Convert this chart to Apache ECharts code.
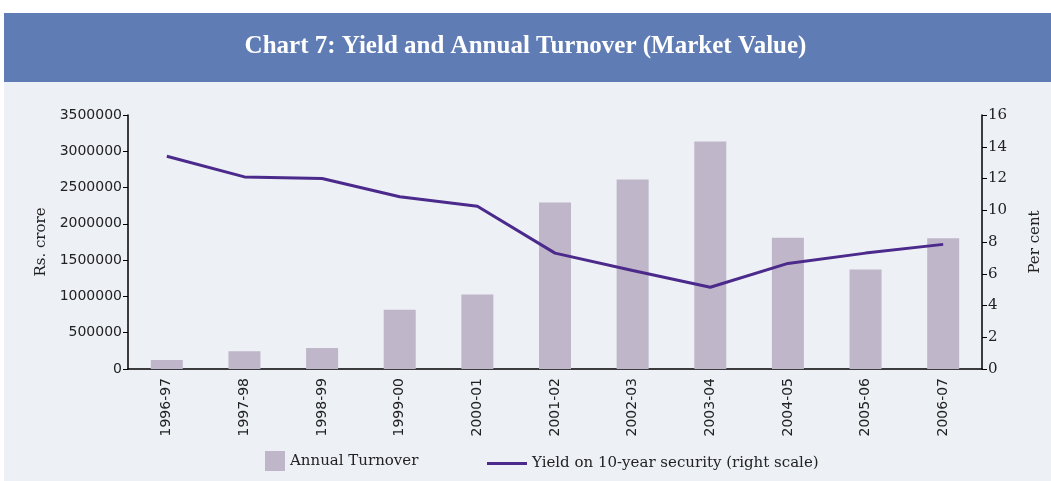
<!DOCTYPE html>
<html>
<head>
<meta charset="utf-8">
<script src="https://cdn.jsdelivr.net/npm/echarts@6/dist/echarts.min.js"></script>
<style>
  html, body { margin: 0; padding: 0; background: #fff; }
  #chart { width: 1051px; height: 481px; }
</style>
</head>
<body>
<div id="chart"></div>
<script>
var years = ['1996-97', '1997-98', '1998-99', '1999-00', '2000-01', '2001-02',
  '2002-03', '2003-04', '2004-05', '2005-06', '2006-07']
var turnover = [125000, 245000, 290000, 815000, 1025000, 2295000, 2610000, 3135000, 1810000, 1370000, 1800000]
var yieldPct = [13.4, 12.1, 12.0, 10.85, 10.25, 7.3, 6.2, 5.15, 6.65, 7.3, 7.85]
var leftTicks = { min: 0, max: 3500000, interval: 500000 }
var rightTicks = { min: 0, max: 16, interval: 2 }

var serif = '"DejaVu Serif", "Liberation Serif", serif'
var sans = '"DejaVu Sans", sans-serif'

var chart = echarts.init(document.getElementById('chart'))
chart.setOption({
  animation: false,
  backgroundColor: '#ffffff',
  graphic: [
    { type: 'rect', shape: { x: 4, y: 82, width: 1047, height: 399 }, style: { fill: '#edf0f5' }, z: -10 },
    { type: 'rect', shape: { x: 4, y: 13, width: 1047, height: 69 }, style: { fill: '#607cb4' }, z: -10 },
    { type: 'text', left: 'center', top: 34, style: { text: 'Chart 7: Yield and Annual Turnover (Market Value)', fill: '#ffffff', font: 'bold 25px "Liberation Serif", serif' } }
  ],
  grid: { left: 128, right: 68, top: 115, bottom: 112 },
  legend: [
    {
      data: [{ name: 'Annual Turnover', icon: 'rect' }], left: 260, top: 446, itemWidth: 20, itemHeight: 20,
      textStyle: { fontFamily: serif, fontSize: 15, color: '#222' }
    },
    {
      data: [{ name: 'Yield on 10-year security (right scale)', icon: 'rect' }], left: 482, top: 451, itemWidth: 40, itemHeight: 3,
      textStyle: { fontFamily: serif, fontSize: 15, color: '#222' }
    }
  ],
  xAxis: {
    type: 'category',
    data: years,
    axisLine: { lineStyle: { color: '#000', width: 1.5 } },
    axisTick: { lineStyle: { color: '#000' }, length: 5 },
    axisLabel: { rotate: 90, color: '#222', fontFamily: sans, fontSize: 14, margin: 9 }
  },
  yAxis: [
    {
      type: 'value', min: leftTicks.min, max: leftTicks.max, interval: leftTicks.interval,
      name: 'Rs. crore', nameLocation: 'middle', nameGap: 78,
      nameTextStyle: { fontFamily: serif, fontSize: 15, color: '#222' },
      axisLine: { show: true, lineStyle: { color: '#000', width: 1.5 } },
      axisTick: { show: true, length: 5, lineStyle: { color: '#000' } },
      splitLine: { show: false },
      axisLabel: { color: '#222', fontFamily: sans, fontSize: 14, margin: 6, formatter: function (v) { return String(v) } }
    },
    {
      type: 'value', min: rightTicks.min, max: rightTicks.max, interval: rightTicks.interval,
      name: 'Per cent', nameLocation: 'middle', nameGap: 46,
      nameTextStyle: { fontFamily: serif, fontSize: 15, color: '#222' },
      axisLine: { show: true, lineStyle: { color: '#000', width: 1.5 } },
      axisTick: { show: true, length: 5, lineStyle: { color: '#000' } },
      splitLine: { show: false },
      axisLabel: { color: '#222', fontFamily: serif, fontSize: 15, margin: 6 }
    }
  ],
  series: [
    {
      name: 'Annual Turnover', type: 'bar', data: turnover, barWidth: 32,
      itemStyle: { color: '#bfb6c9' }
    },
    {
      name: 'Yield on 10-year security (right scale)', type: 'line', yAxisIndex: 1, data: yieldPct,
      symbol: 'none', lineStyle: { color: '#4b2a8c', width: 3 }, itemStyle: { color: '#4b2a8c' }
    }
  ]
})
</script>
</body>
</html>
